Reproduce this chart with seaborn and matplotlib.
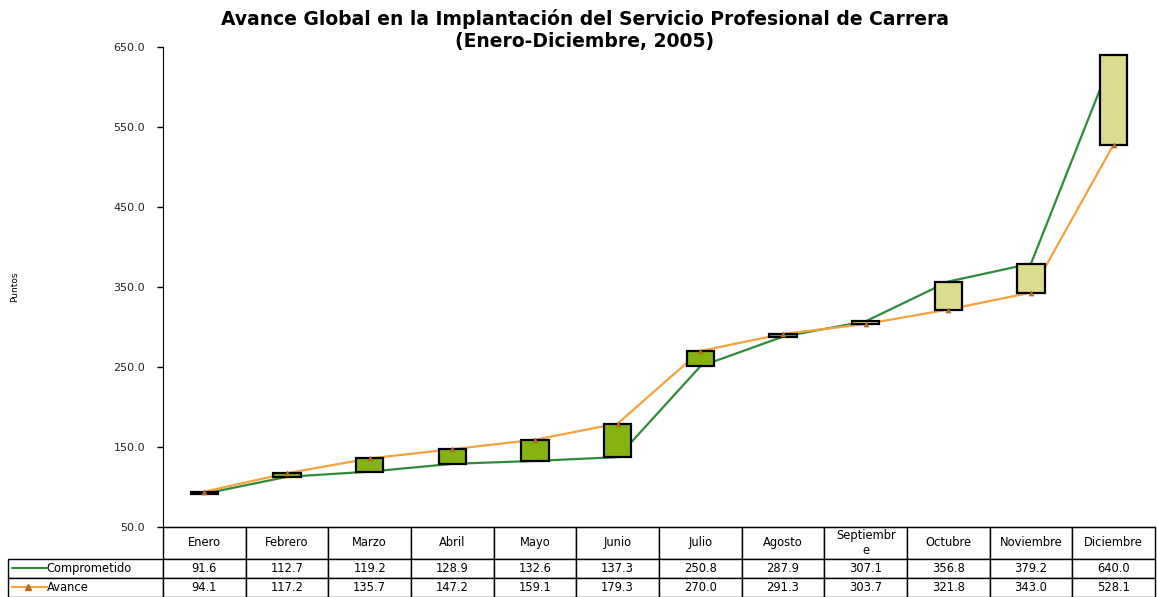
import numpy as np
import matplotlib.pyplot as plt
import seaborn as sns

meses = ['Enero', 'Febrero', 'Marzo', 'Abril', 'Mayo', 'Junio', 'Julio',
         'Agosto', 'Septiembr\ne', 'Octubre', 'Noviembre', 'Diciembre']
comprometido = [91.6, 112.7, 119.2, 128.9, 132.6, 137.3, 250.8, 287.9, 307.1, 356.8, 379.2, 640.0]
avance = [94.1, 117.2, 135.7, 147.2, 159.1, 179.3, 270.0, 291.3, 303.7, 321.8, 343.0, 528.1]
y_ticks = [50, 150, 250, 350, 450, 550, 650]

verde = '#2e8b3a'
naranja = '#f5a23a'
barra_sube = '#84b312'
barra_baja = '#dcdc8e'

sns.set_style('white')
plt.rcParams['font.family'] = ['DejaVu Sans']
plt.rcParams['text.color'] = 'black'

fig = plt.figure(figsize=(11.58, 5.97), dpi=100)
ax = fig.add_axes([0.1408, 0.1173, 0.8566, 0.804])

x = np.arange(len(meses))
comp = np.array(comprometido)
av = np.array(avance)

sns.lineplot(x=x, y=comp, ax=ax, color=verde, lw=1.6, zorder=2)
sns.lineplot(x=x, y=av, ax=ax, color=naranja, lw=1.6, zorder=2)

# barras de diferencia (up/down bars)
lo = np.minimum(comp, av)
hi = np.maximum(comp, av)
colores = np.where(av >= comp, barra_sube, barra_baja)
ax.bar(x, hi - lo, bottom=lo, width=0.33, color=colores,
       edgecolor='black', linewidth=1.6, zorder=3)

sns.scatterplot(x=x, y=av, ax=ax, marker='^', s=14, color='#b0701e',
                edgecolor='#b0701e', zorder=4)

ax.set_xlim(-0.5, len(meses) - 0.5)
ax.set_ylim(50, 650)
ax.set_yticks(y_ticks)
ax.set_yticklabels([f'{v:.1f}' for v in y_ticks], fontsize=8, color='#222222')
ax.set_xticks([])
ax.tick_params(axis='y', direction='out', length=4.5, width=1, pad=8.5, color='black', left=True)
for s in ['top', 'right']:
    ax.spines[s].set_visible(False)
ax.spines['left'].set_color('black')
ax.spines['bottom'].set_color('black')

ax.set_ylabel('Puntos', fontsize=6.5, color='black')
ax.yaxis.set_label_coords(-0.145, 0.5)

# tabla de datos
cell_text = [['Comprometido'] + [f'{v:.1f}' for v in comprometido],
             ['Avance'] + [f'{v:.1f}' for v in avance]]
tab_h = 0.145
tab = ax.table(cellText=cell_text, colLabels=[''] + meses, cellLoc='center',
               bbox=[-0.1562, -tab_h, 1.1562, tab_h])
tab.auto_set_font_size(False)
tab.set_fontsize(8.3)
alturas = [32, 19, 19]
for (r, c), cell in tab.get_celld().items():
    cell.set_width(155 if c == 0 else 82.7)
    cell.set_height(alturas[r])
    cell.set_linewidth(1.0)
    cell.set_edgecolor('black')
    cell.get_text().set_color('black')
    if c == 0:
        cell.set_text_props(ha='left')
        cell._loc = 'left'
        cell.PAD = 0.25
        if r == 0:
            cell.visible_edges = 'open'

# simbolos de leyenda en la tabla
tot = sum(alturas)
y_comp = -tab_h + (alturas[2] + alturas[1] / 2) / tot * tab_h
y_av = -tab_h + (alturas[2] / 2) / tot * tab_h
ax.plot([-0.152, -0.116], [y_comp, y_comp], color=verde, lw=1.5,
        transform=ax.transAxes, clip_on=False)
ax.plot([-0.152, -0.116], [y_av, y_av], color=naranja, lw=1.5,
        transform=ax.transAxes, clip_on=False)
ax.plot([-0.136], [y_av], marker='^', ms=4, color='#b0701e',
        transform=ax.transAxes, clip_on=False)

fig.text(0.505, 0.985, 'Avance Global en la Implantación del Servicio Profesional de Carrera\n(Enero-Diciembre, 2005)',
         ha='center', va='top', fontsize=13.5, weight='bold', linespacing=1.2,
         color='black')

fig.savefig('out.png', dpi=100)
